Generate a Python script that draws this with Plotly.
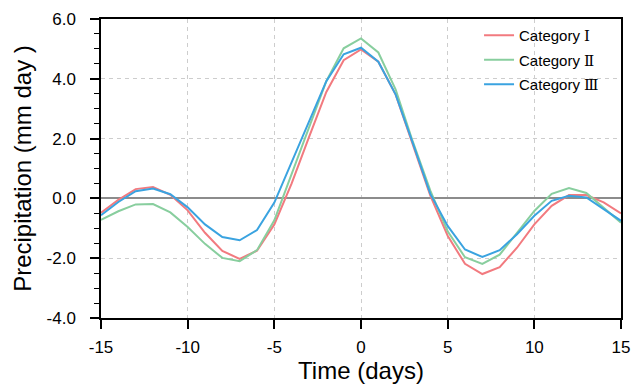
import plotly.graph_objects as go

days = list(range(-15, 16))
cat1 = [-0.48, -0.05, 0.31, 0.38, 0.12, -0.40, -1.15, -1.76, -2.02, -1.75, -0.87, 0.50, 2.05, 3.56, 4.62, 4.98,
        4.57, 3.47, 1.78, 0.09, -1.25, -2.19, -2.53, -2.30, -1.65, -0.87, -0.25, 0.11, 0.11, -0.13, -0.50]
cat2 = [-0.72, -0.43, -0.20, -0.19, -0.47, -0.96, -1.52, -1.99, -2.10, -1.73, -0.73, 0.80, 2.39, 3.92, 5.02, 5.35,
        4.88, 3.64, 1.88, 0.26, -1.10, -1.97, -2.19, -1.88, -1.15, -0.42, 0.15, 0.35, 0.18, -0.30, -0.81]
cat3 = [-0.56, -0.12, 0.24, 0.33, 0.14, -0.30, -0.87, -1.29, -1.40, -1.06, -0.14, 1.20, 2.60, 3.92, 4.82, 5.04,
        4.57, 3.47, 1.83, 0.15, -0.92, -1.71, -1.96, -1.73, -1.20, -0.58, -0.08, 0.09, 0.03, -0.36, -0.75]

names = ["Category <span style='font-family:DejaVu Serif'>Ⅰ</span>",
         "Category <span style='font-family:DejaVu Serif'>Ⅱ</span>",
         "Category <span style='font-family:DejaVu Serif'>Ⅲ</span>"]
colors = ["#F27A7F", "#88CE9E", "#3AA3E0"]
series = [cat1, cat2, cat3]

x_ticks = [-15, -10, -5, 0, 5, 10, 15]
y_ticks = [-4.0, -2.0, 0.0, 2.0, 4.0, 6.0]

fig = go.Figure()
for i, (nm, col, vals) in enumerate(zip(names, colors, series)):
    fig.add_trace(go.Scatter(x=days, y=vals, mode="lines", name=nm, legendgroup=f"g{i}",
                             line=dict(color=col, width=2)))

font = "Liberation Sans, Arial, Helvetica, sans-serif"
grid = "#cdcdcd"
fig.update_layout(
    width=633, height=389,
    margin=dict(l=101, r=12, t=19, b=71),
    paper_bgcolor="white", plot_bgcolor="white",
    font=dict(family=font, color="black"),
    showlegend=True,
    legend=dict(x=0.727, y=1.0, xanchor="left", yanchor="top",
                bgcolor="rgba(0,0,0,0)", borderwidth=0,
                font=dict(size=15, family=font), tracegroupgap=2,
                itemwidth=30),
    xaxis=dict(range=[-15, 15], tickvals=x_ticks, ticktext=[str(v) for v in x_ticks],
               showline=True, linecolor="black", linewidth=1.5, mirror=True,
               ticks="outside", ticklen=9, tickwidth=1.5, tickcolor="black",
               tickfont=dict(size=17), ticklabelstandoff=4, showgrid=True, gridcolor=grid,
               griddash="4px,4px", gridwidth=1, zeroline=False, automargin=False,
               title=dict(text="Time (days)", font=dict(size=24), standoff=6)),
    yaxis=dict(range=[-4, 6], tickvals=y_ticks, ticktext=["%.1f" % v for v in y_ticks],
               showline=True, linecolor="black", linewidth=1.5, mirror=True,
               ticks="outside", ticklen=9, tickwidth=1.5, tickcolor="black",
               tickfont=dict(size=17), ticklabelstandoff=11, showgrid=True, gridcolor=grid,
               griddash="4px,4px", gridwidth=1, zeroline=True, zerolinecolor="#8c8c8c",
               zerolinewidth=1.5, automargin=False,
               minor=dict(dtick=0.5, ticks="outside", ticklen=5, tickwidth=1,
                          tickcolor="black", showgrid=False),
               title=dict(text="Precipitation (mm day )", font=dict(size=24), standoff=8)),
)

fig.write_html("out.html")
